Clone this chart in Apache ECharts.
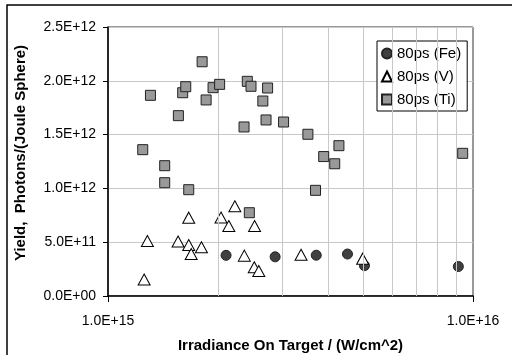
<!DOCTYPE html>
<html>
<head>
<meta charset="utf-8">
<script src="https://cdn.jsdelivr.net/npm/echarts@6/dist/echarts.min.js"></script>
<style>
  html, body { margin: 0; padding: 0; background: #fff; }
  #chart { width: 512px; height: 355px; }
</style>
</head>
<body>
<div id="chart"></div>
<script>
// 80 ps pulses: irradiance (W/cm^2) and yield (photons / joule sphere)
const feIrradiance = [2.106e15, 2.870e15, 3.720e15, 4.530e15, 5.042e15, 9.117e15];
const feYield      = [0.378e12, 0.364e12, 0.379e12, 0.390e12, 0.282e12, 0.274e12];

const vIrradiance = [1.256e15, 1.282e15, 1.556e15, 1.664e15, 1.664e15, 1.690e15, 1.803e15, 2.040e15,
                     2.143e15, 2.226e15, 2.363e15, 2.521e15, 2.516e15, 2.589e15, 3.380e15, 4.985e15];
const vYield      = [0.153e12, 0.511e12, 0.507e12, 0.728e12, 0.474e12, 0.390e12, 0.453e12, 0.730e12,
                     0.651e12, 0.834e12, 0.375e12, 0.651e12, 0.267e12, 0.232e12, 0.383e12, 0.347e12];

const tiIrradiance = [1.245e15, 1.307e15, 1.430e15, 1.430e15, 1.559e15, 1.602e15, 1.633e15, 1.664e15,
                      1.811e15, 1.857e15, 1.940e15, 2.022e15, 2.359e15, 2.408e15, 2.439e15, 2.465e15,
                      2.656e15, 2.710e15, 2.737e15, 3.027e15, 3.529e15, 3.703e15, 3.899e15, 4.180e15,
                      4.292e15, 9.37e15];
const tiYield      = [1.360e12, 1.865e12, 1.211e12, 1.053e12, 1.676e12, 1.889e12, 1.945e12, 0.988e12,
                      2.177e12, 1.822e12, 1.936e12, 1.967e12, 1.571e12, 1.995e12, 0.774e12, 1.949e12,
                      1.812e12, 1.636e12, 1.933e12, 1.617e12, 1.503e12, 0.982e12, 1.296e12, 1.229e12,
                      1.397e12, 1.326e12];

const seriesNames = ['80ps (Fe)', '80ps (V)', '80ps (Ti)'];

// Axis ranges and the intermediate decade grid lines of the log axis
const xMin = 1e15, xMax = 1e16;
const yMin = 0, yMax = 2.5e12, yStep = 0.5e12;
const xMinorGrid = [2e15, 3e15, 4e15, 5e15, 6e15, 7e15, 8e15, 9e15];

const FONT = '"Liberation Sans", Arial, sans-serif';

function sci(v) {
  if (v === 0) return '0.0E+00';
  const exp = Math.floor(Math.log10(Math.abs(v)) + 1e-9);
  const mant = v / Math.pow(10, exp);
  const e = String(Math.abs(exp)).padStart(2, '0');
  return mant.toFixed(1) + 'E' + (exp < 0 ? '-' : '+') + e;
}

function pairs(xs, ys) { return xs.map((x, i) => [x, ys[i]]); }

const chart = echarts.init(document.getElementById('chart'), null, { renderer: 'canvas' });

chart.setOption({
  animation: false,
  backgroundColor: '#fff',
  grid: {
    left: 108, top: 27, right: 39, bottom: 59,
    outerBoundsMode: 'none', containLabel: false,
    show: true, borderColor: '#333', borderWidth: 1, backgroundColor: 'transparent'
  },
  xAxis: {
    type: 'log', logBase: 10, min: xMin, max: xMax,
    name: 'Irradiance On Target / (W/cm^2)',
    nameLocation: 'middle', nameGap: 42,
    nameTextStyle: { fontFamily: FONT, fontSize: 15, fontWeight: 'bold', color: '#000' },
    axisLine: { show: true, onZero: false, lineStyle: { color: '#000', width: 1.5 } },
    axisTick: { show: true, length: 6, lineStyle: { color: '#000', width: 1 } },
    axisLabel: { fontFamily: FONT, fontSize: 14, color: '#000', margin: 18, formatter: sci },
    splitLine: { show: false },
    minorTick: { show: false }
  },
  yAxis: {
    type: 'value', min: yMin, max: yMax, interval: yStep,
    axisLine: { show: true, lineStyle: { color: '#000', width: 1.5 } },
    axisTick: { show: true, length: 5, lineStyle: { color: '#000', width: 1 } },
    axisLabel: { fontFamily: FONT, fontSize: 14, color: '#000', margin: 12, formatter: sci },
    splitLine: { show: true, lineStyle: { color: '#c8c8c8', width: 1 } }
  },
  legend: {
    data: seriesNames,
    orient: 'vertical',
    left: 377, top: 41,
    padding: [5, 6, 4, 4],
    itemGap: 8,
    itemWidth: 10, itemHeight: 10,
    backgroundColor: '#fff',
    borderColor: '#000', borderWidth: 1,
    borderRadius: 0,
    textStyle: { fontFamily: FONT, fontSize: 15, color: '#000' }
  },
  graphic: [
    {
      type: 'rect', silent: true, z: 100,
      shape: { x: 7, y: 5, width: 600, height: 400 },
      style: { fill: 'none', stroke: '#000', lineWidth: 1.5 }
    },
    {
      type: 'text', silent: true, z: 100,
      x: 21, y: 153, rotation: Math.PI / 2,
      style: {
        text: 'Yield,  Photons/(Joule Sphere)',
        fontFamily: FONT, fontSize: 15, fontWeight: 'bold', fill: '#000',
        align: 'center', verticalAlign: 'middle'
      }
    }
  ],
  series: [
    {
      name: 'decade grid', type: 'scatter', data: [], silent: true, z: 1,
      markLine: {
        silent: true, symbol: 'none', animation: false,
        label: { show: false },
        emphasis: { disabled: true },
        lineStyle: { color: '#c8c8c8', width: 1, type: 'solid' },
        data: xMinorGrid.map(v => ({ xAxis: v }))
      }
    },
    {
      name: seriesNames[0], type: 'scatter', z: 3,
      data: pairs(feIrradiance, feYield),
      symbol: 'circle', symbolSize: 10,
      itemStyle: { color: '#404040', borderColor: '#222', borderWidth: 1, opacity: 1 }
    },
    {
      name: seriesNames[1], type: 'scatter', z: 4,
      data: pairs(vIrradiance, vYield),
      symbol: 'triangle', symbolSize: [12, 11],
      itemStyle: { color: '#fff', borderColor: '#000', borderWidth: 1, opacity: 1 }
    },
    {
      name: seriesNames[2], type: 'scatter', z: 5,
      data: pairs(tiIrradiance, tiYield),
      symbol: 'rect', symbolSize: 10,
      itemStyle: { color: '#999999', borderColor: '#222', borderWidth: 1, opacity: 1 }
    }
  ]
});
</script>
</body>
</html>
